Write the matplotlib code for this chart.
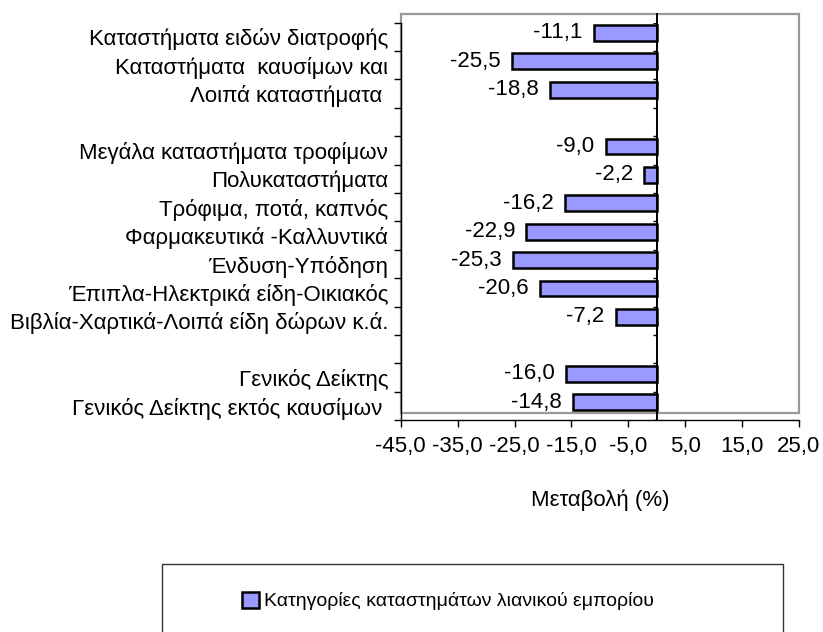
import matplotlib.pyplot as plt
import matplotlib.ticker as mticker
from matplotlib.patches import Rectangle
import numpy as np

plt.rcParams['font.family'] = ['Liberation Sans', 'DejaVu Sans']

# Données
categories = [
    "Καταστήματα ειδών διατροφής",
    "Καταστήματα  καυσίμων και",
    "Λοιπά καταστήματα ",
    "",
    "Μεγάλα καταστήματα τροφίμων",
    "Πολυκαταστήματα",
    "Τρόφιμα, ποτά, καπνός",
    "Φαρμακευτικά -Καλλυντικά",
    "Ένδυση-Υπόδηση",
    "Έπιπλα-Ηλεκτρικά είδη-Οικιακός",
    "Βιβλία-Χαρτικά-Λοιπά είδη δώρων κ.ά.",
    "",
    "Γενικός Δείκτης",
    "Γενικός Δείκτης εκτός καυσίμων ",
]
values = [-11.1, -25.5, -18.8, None, -9.0, -2.2, -16.2, -22.9, -25.3, -20.6, -7.2, None, -16.0, -14.8]
xticks = [-45, -35, -25, -15, -5, 5, 15, 25]
series_name = "Κατηγορίες καταστημάτων λιανικού εμπορίου"
xlabel = "Μεταβολή (%)"

fs_text = 16
fs_num = 16
fs_leg = 14
bar_color = '#9999ff'

fig = plt.figure(figsize=(8.23, 6.32), dpi=100)
ax = fig.add_axes([400.7 / 823, 211.7 / 632, 398.3 / 823, 397.6 / 632])

n = len(categories)
idx = [i for i, v in enumerate(values) if v is not None]
ypos = np.array(idx) + 0.5 - 0.14
vals = np.array([values[i] for i in idx])
bars = ax.barh(ypos, vals, height=0.56, color=bar_color, edgecolor='black',
               linewidth=1.8, label=series_name, zorder=3)

for y, v in zip(ypos, vals):
    ax.annotate("{:.1f}".format(v).replace('.', ','), (v, y), xytext=(-8, 0),
                textcoords='offset points', ha='right', va='center', fontsize=fs_num)

ax.set_xlim(-45, 25)
ax.set_ylim(n, 0)
ax.set_xticks(xticks)
ax.xaxis.set_major_formatter(mticker.FuncFormatter(lambda x, p: "{:.1f}".format(x).replace('.', ',')))
ax.tick_params(axis='x', direction='out', length=5, width=1, labelsize=fs_num, pad=6)

ax.set_yticks(np.arange(n + 1))
ax.set_yticklabels([])
ax.set_yticks(np.arange(n) + 0.5, minor=True)
ax.set_yticklabels(categories, minor=True)
ax.tick_params(axis='y', which='major', direction='out', length=5, width=1)
ax.tick_params(axis='y', which='minor', length=0, labelsize=fs_text, pad=9)

for s in ['top', 'right']:
    ax.spines[s].set_visible(False)
for s in ['left', 'bottom']:
    ax.spines[s].set_linewidth(1)

# ligne du zéro et petites graduations
ax.axvline(0, ymin=0, ymax=1.022, color='black', lw=1.4, clip_on=False, zorder=4)
ax.plot(np.zeros(n + 1), np.arange(n + 1), linestyle='none', marker=0,
        markersize=3, color='black', zorder=4)

# cadre gris de la zone de tracé
ax.add_patch(Rectangle((0, 0.019), 1, 1.003, transform=ax.transAxes, fill=False,
                       edgecolor='#999999', lw=1.6, clip_on=False, zorder=1))

ax.set_xlabel(xlabel, fontsize=fs_text, labelpad=24)

# légende
fig.patches.append(Rectangle((162 / 823, -0.05), 621 / 823, (632 - 564) / 632 + 0.05,
                             transform=fig.transFigure, fill=False, edgecolor='#333333', lw=1))
fig.legend(handles=[bars], labels=[series_name], loc='center left',
           bbox_to_anchor=(241.7 / 823, (632 - 601) / 632), frameon=False, fontsize=fs_leg,
           borderpad=0, borderaxespad=0, handlelength=0.9, handleheight=0.9, handletextpad=0.25)

fig.savefig('out.png', dpi=100)
